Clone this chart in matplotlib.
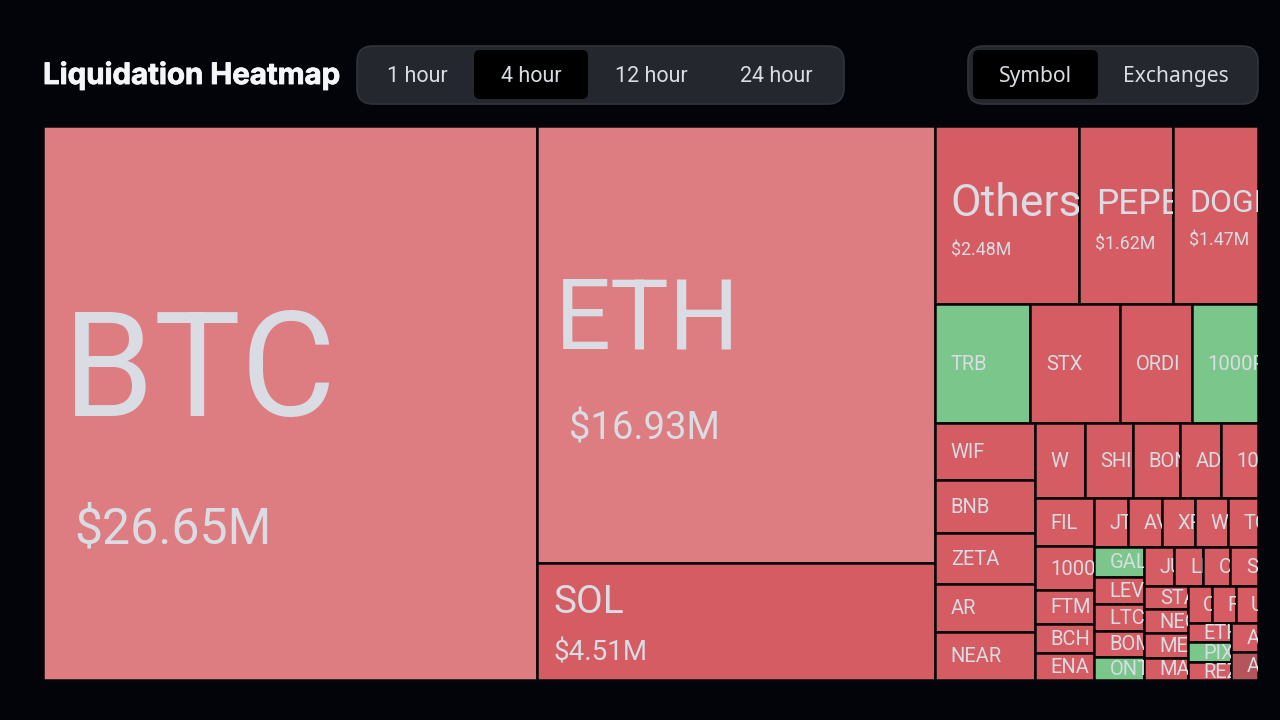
import matplotlib
matplotlib.use("Agg")
import matplotlib.pyplot as plt
import matplotlib.patheffects as pe
from matplotlib.patches import Rectangle, FancyBboxPatch

# Liquidations in $M (cell areas for the small ones)
main_names = ["BTC", "ETH", "SOL"]
main_values = [26.65, 16.93, 4.51]
top_names = ["Others", "PEPE", "DOGE"]
top_values = [2.48, 1.62, 1.47]
second_names = ["TRB", "STX", "ORDI", "1000PEPE"]
second_values = [1.107, 1.05, 0.827, 0.769]
left_names = ["WIF", "BNB", "ZETA", "AR", "NEAR"]
left_values = [0.555, 0.516, 0.487, 0.468, 0.468]
w_names = ["W", "SHIB", "BONK", "ADA", "1000"]
w_values = [0.365, 0.350, 0.343, 0.292, 0.270]
fil_names = ["FIL", "1000BONK", "FTM", "BCH", "ENA"]
fil_values = [0.277, 0.254, 0.191, 0.168, 0.156]
jto_names = ["JTO", "AVAX", "XRP", "WLD", "TON"]
jto_values = [0.163, 0.163, 0.158, 0.158, 0.142]
gal_names = ["GALA", "LEVER", "LTC", "BOME", "ONT"]
gal_values = [0.142, 0.132, 0.132, 0.127, 0.113]
jup_names = ["JUP", "LINK", "OP", "S"]
jup_values = [0.113, 0.109, 0.102, 0.102]
sta_names = ["STA", "NEO", "MEME", "MANTA"]
sta_values = [0.097, 0.101, 0.105, 0.091]
c_names = ["C", "F", "U"]
c_values = [0.086, 0.086, 0.079]
eth_names = ["ETHFI", "PIXEL", "REZ"]
eth_values = [0.082, 0.086, 0.075]
a_names = ["A", "A"]
a_values = [0.074, 0.071]

light_cells = ["BTC", "ETH"]
green_cells = ["TRB", "1000PEPE", "GALA", "ONT", "PIXEL"]
value_labels = {"BTC": "$26.65M", "ETH": "$16.93M", "SOL": "$4.51M",
                "Others": "$2.48M", "PEPE": "$1.62M", "DOGE": "$1.47M"}

periods = ["1 hour", "4 hour", "12 hour", "24 hour"]
views = ["Symbol", "Exchanges"]
title = "Liquidation Heatmap"

# Colours
BG = "#02040A"
PILL = "#24272E"
PILL_EDGE = "#31343B"
LIGHT = "#DD7C81"
RED = "#D55C62"
GREEN = "#7BC68B"
DIM = "#B4545B"
TEXT = "#D9DCE3"

# Text of the large cells: label size, value size, label dx, dy, value dx, dy
big_text = {
    "BTC": (105, 36, 20, 250, 32, 403),
    "ETH": (71, 27.5, 18, 195, 32, 303),
    "SOL": (28, 20, 16, 39, 16, 90),
    "Others": (32, 12.8, 15, 78, 16, 124),
    "PEPE": (25.5, 12.8, 17, 78, 16, 118),
    "DOGE": (23, 12.8, 17, 77, 16, 114),
}


def leaves(names, values):
    return [(n, v) for n, v in zip(names, values)]


def total(node):
    if node[0] in ("h", "v"):
        return sum(total(c) for c in node[1])
    return node[1]


# Slice and dice: "h" puts children side by side, "v" stacks them
def layout(node, x, y, w, h, out):
    if node[0] not in ("h", "v"):
        out.append((node[0], x, y, w, h))
        return
    s = total(node)
    for child in node[1]:
        part = total(child) / s
        if node[0] == "h":
            layout(child, x, y, w * part, h, out)
            x += w * part
        else:
            layout(child, x, y, w, h * part, out)
            y += h * part


m = leaves(main_names, main_values)
corner = ("v", [("h", leaves(c_names, c_values)),
                ("h", [("v", leaves(eth_names, eth_values)),
                       ("v", leaves(a_names, a_values))])])
tail = ("h", [("v", leaves(sta_names, sta_values)), corner])
tail = ("v", [("h", leaves(jup_names, jup_values)), tail])
tail = ("h", [("v", leaves(gal_names, gal_values)), tail])
tail = ("v", [("h", leaves(jto_names, jto_values)), tail])
tail = ("h", [("v", leaves(fil_names, fil_values)), tail])
tail = ("v", [("h", leaves(w_names, w_values)), tail])
tail = ("h", [("v", leaves(left_names, left_values)), tail])
third = ("v", [("h", leaves(top_names, top_values)),
               ("h", leaves(second_names, second_values)), tail])
tree = ("h", [m[0], ("v", m[1:]), third])

cells = []
layout(tree, 42.6, 126.2, 1215.0, 553.6, cells)

plt.rcParams["font.family"] = ["Roboto", "DejaVu Sans"]
fig = plt.figure(figsize=(12.8, 7.2), dpi=100, facecolor=BG)
ax = fig.add_axes([0, 0, 1, 1])
ax.set_xlim(0, 1280)
ax.set_ylim(720, 0)
ax.axis("off")

# Treemap cells
for i, (name, x, y, w, h) in enumerate(cells):
    color = RED
    if name in light_cells:
        color = LIGHT
    elif name in green_cells:
        color = GREEN
    elif i == len(cells) - 1:
        color = DIM
    rect = Rectangle((x, y), w, h, facecolor=color, edgecolor="#060608", linewidth=1.8)
    ax.add_patch(rect)
    if name in big_text:
        fs, vfs, dx, dy, vdx, vdy = big_text[name]
        t = ax.text(x + dx, y + dy, name, fontsize=fs, color=TEXT, ha="left", va="center", clip_on=True)
        t.set_clip_path(rect)
        t2 = ax.text(x + vdx, y + vdy, value_labels[name], fontsize=vfs, color=TEXT, ha="left", va="center", clip_on=True)
        t2.set_clip_path(rect)
    else:
        t = ax.text(x + 15.5, y + h / 2 + 1, name, fontsize=14.5, color=TEXT, ha="left", va="center", clip_on=True)
        t.set_clip_path(rect)

# Header
tt = ax.text(43, 76, title, fontsize=21.2, fontweight="bold", family="Inter", color="#F5F6F8", ha="left", va="center")
tt.set_path_effects([pe.withStroke(linewidth=0.6, foreground="#F5F6F8")])


def pill(x0, x1, y0, y1, r, fc, ec):
    ax.add_patch(FancyBboxPatch((x0 + r, y0 + r), x1 - x0 - 2 * r, y1 - y0 - 2 * r,
                                boxstyle="round,pad=%d,rounding_size=%d" % (r, r),
                                facecolor=fc, edgecolor=ec, linewidth=1.2))


pill(357, 844, 46, 104, 16, PILL, PILL_EDGE)
pill(474, 588, 50, 99, 6, "#000000", "none")
for label, cx in zip(periods, [417, 531, 651, 776]):
    ax.text(cx, 76, label, fontsize=15.5, color=TEXT, ha="center", va="center")

pill(968, 1258, 46, 104, 16, PILL, PILL_EDGE)
pill(973, 1098, 50, 99, 6, "#000000", "none")
for label, cx in zip(views, [1035, 1176]):
    ax.text(cx, 76.6, label, fontsize=15.2, family="Noto Sans", color=TEXT, ha="center", va="center")

fig.savefig("out.png", dpi=100, facecolor=BG)
